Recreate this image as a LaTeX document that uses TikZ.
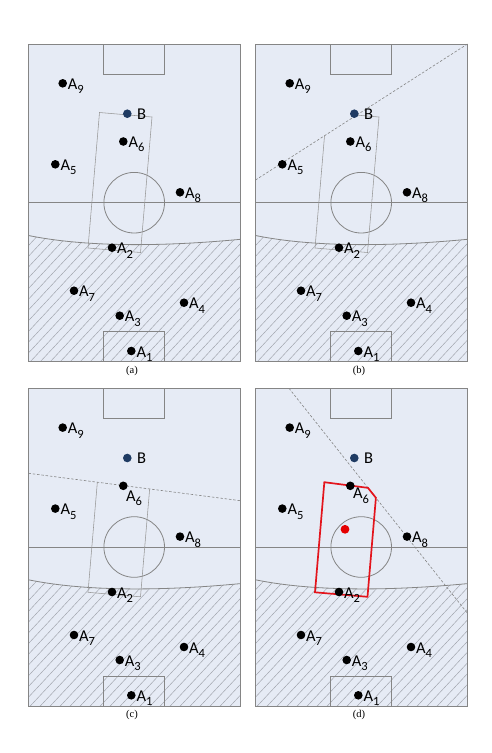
\documentclass[tikz,border=0pt]{standalone}
\usepackage{fontspec}
\setmainfont{Carlito}
\newfontfamily\capfont{Liberation Serif}
\usetikzlibrary{calc}
\definecolor{fieldfill}{HTML}{E6EBF5}
\definecolor{linegray}{HTML}{858585}
\definecolor{hatchgray}{HTML}{9EA2AA}
\definecolor{bdot}{HTML}{1F3B63}
\definecolor{redc}{HTML}{E3141C}
\newcommand\Alab[1]{A\raisebox{-4.2pt}{\fontsize{12.5}{13}\selectfont #1}}
\tikzset{
  fieldline/.style={draw=linegray, line width=0.8pt},
  hatch/.style={draw=hatchgray, line width=0.45pt},
  rectline/.style={draw=linegray!85, line width=0.55pt},
  dashline/.style={draw=linegray, line width=0.6pt, dash pattern=on 2.5pt off 1.8pt},
  redpoly/.style={draw=redc, line width=1.7pt, line join=miter},
  dot/.style={circle, fill=black, inner sep=0pt, minimum size=8.6pt},
  bluedot/.style={dot, fill=bdot},
  reddot/.style={dot, fill=red!90!black, minimum size=8.8pt},
  lab/.style={inner sep=0pt, font=\fontsize{16.5}{18}\selectfont, anchor=base west},
  caplab/.style={inner sep=0pt, font=\capfont\fontsize{10.5}{12}\selectfont}
}
\begin{document}
\begin{tikzpicture}[x=1pt,y=-1pt]
\useasboundingbox (0,0) rectangle (491,753);
\fill[white] (0,0) rectangle (491,753);

% common field drawing
\foreach \p/\ox/\oy in {a/0/0, b/227/0, c/0/344.3, d/227/344.3} {
 \begin{scope}[shift={(\ox,\oy)}]
  \fill[fieldfill] (28.5,44) rectangle (240.5,361.7);
  \begin{scope}
   \clip (28.5,235.5) .. controls (90,248) and (170,246) .. (240.5,239.3)
         -- (240.5,361.7) -- (28.5,361.7) -- cycle;
   \foreach \k in {0,...,36} {
     \draw[hatch] (-120+10*\k, 362) -- ++(150,-161);
   }
  \end{scope}
  \draw[fieldline] (28.5,235.5) .. controls (90,248) and (170,246) .. (240.5,239.3);
  \draw[fieldline] (28.5,202.7) -- (240.5,202.7);
  \draw[fieldline] (134.2,202.7) circle[radius=30.3];
  \draw[fieldline] (103.7,44) -- (103.7,74) -- (164.7,74) -- (164.7,44);
  \draw[fieldline] (103.7,361.7) -- (103.7,331.7) -- (164.7,331.7) -- (164.7,361.7);
  \draw[fieldline] (28.5,44) rectangle (240.5,361.7);
  \node[caplab] (\p-cap) at (132,370.5) {(\p)};
 \end{scope}
}

% panel (a)
\draw[rectline] (99.5,112.5) -- (152,117) -- (140.5,252.5) -- (88,248) -- cycle;

% panel (b)
\begin{scope}[shift={(227,0)}]
  \draw[rectline] (97.53,135.77) -- (88,248) -- (140.5,252.5) -- (152,117) -- (129.7,115.1);
  \draw[dashline] (28.5,180) -- (240.5,44);
\end{scope}

% panel (c)
\begin{scope}[shift={(0,344.3)}]
  \draw[rectline] (97.34,137.9) -- (88,248) -- (140.5,252.5) -- (149.65,144.66);
  \draw[dashline] (28.5,129) -- (240.5,156.4);
\end{scope}

% panel (d)
\begin{scope}[shift={(227,344.3)}]
  \draw[dashline] (62,44) -- (240.5,269);
  \draw[redpoly] (97.34,137.9) -- (140.96,143.54) -- (148.9,153.5) -- (140.5,252.5) -- (88,248) -- cycle;
  \node[reddot] (d-red) at (118,185) {};
\end{scope}

% players
\foreach \p/\ox/\oy in {a/0/0, b/227/0, c/0/344.3, d/227/344.3} {
 \begin{scope}[shift={(\ox,\oy)}]
  \node[dot] (\p-A9) at (62.7,83.3) {};
  \node[bluedot] (\p-B) at (127.3,113.7) {};
  \node[dot] (\p-A6) at (123.3,141.5) {};
  \node[dot] (\p-A5) at (55.3,164.3) {};
  \node[dot] (\p-A8) at (180,192.3) {};
  \node[dot] (\p-A2) at (112,247.7) {};
  \node[dot] (\p-A7) at (74,290.7) {};
  \node[dot] (\p-A4) at (184,302.7) {};
  \node[dot] (\p-A3) at (119.7,315.7) {};
  \node[dot] (\p-A1) at (131.3,351) {};
  \node[lab] (\p-lB) at ($(\p-B)+(9.5,5.8)$) {B};
  \foreach \n in {9,5,8,2,7,4,3,1} {
    \node[lab] (\p-lA\n) at ($(\p-A\n)+(5,6.2)$) {\Alab{\n}};
  }
 \end{scope}
}
\node[lab] (a-lA6) at ($(a-A6)+(5,6.2)$) {\Alab{6}};
\node[lab] (b-lA6) at ($(b-A6)+(5,6.2)$) {\Alab{6}};
\node[lab] (c-lA6) at ($(c-A6)+(2.5,15.5)$) {\Alab{6}};
\node[lab] (d-lA6) at ($(d-A6)+(2.5,13)$) {\Alab{6}};
\end{tikzpicture}
\end{document}
